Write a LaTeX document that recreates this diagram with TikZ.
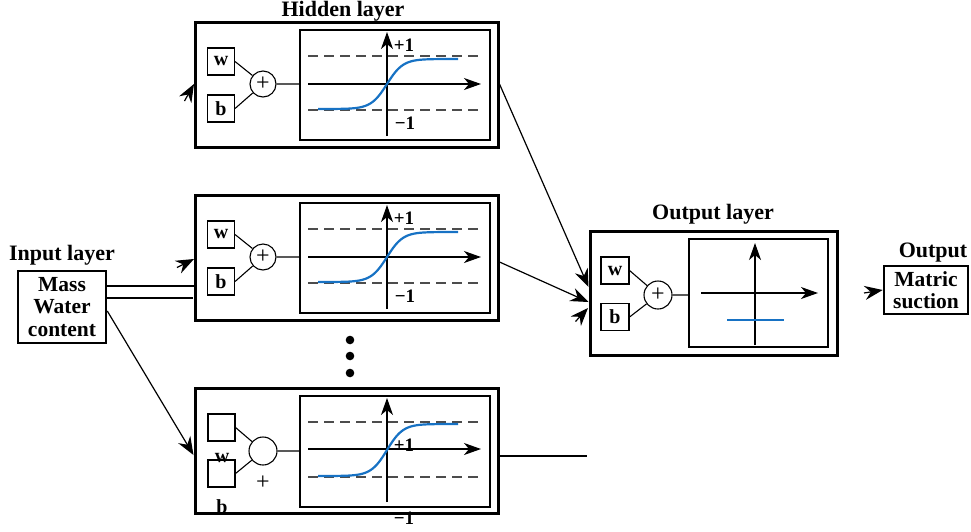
\documentclass[tikz,border=0pt]{standalone}
\usepackage{fontspec}
\setmainfont{Liberation Serif}
\usepackage{tikz}
\usetikzlibrary{arrows.meta}

\definecolor{sigblue}{RGB}{23,114,196}
\tikzset{
  outerbox/.style={draw,line width=3pt,minimum width=303pt,minimum height=125pt,inner sep=0pt},
  innerbox/.style={draw,line width=1.3pt},
  wbbox/.style={draw,line width=1.1pt,minimum width=27pt,minimum height=27pt,inner sep=0pt,font=\fontsize{20}{21}\selectfont\bfseries},
  sumnode/.style={draw,circle,line width=1.1pt,minimum size=26pt,inner sep=0pt,font=\fontsize{24}{25}\selectfont},
  lbl/.style={font=\fontsize{19}{20}\selectfont\bfseries,inner sep=0pt},
  title/.style={font=\fontsize{22}{24}\selectfont\bfseries,anchor=base,inner sep=0pt},
  iobox/.style={draw,line width=2.6pt,inner sep=0pt,align=center,font=\fontsize{21.5}{22.5}\selectfont\bfseries},
  wire/.style={line width=1.1pt},
  arr/.style={line width=1.2pt,-{Stealth[length=18pt,width=14pt,inset=6pt]}},
  axis/.style={line width=1.2pt,-{Stealth[length=17pt,width=12pt,inset=5pt]}},
  dashline/.style={line width=1.2pt,draw=black!70,dash pattern=on 10pt off 6pt},
  sigm/.style={line width=2.2pt,draw=sigblue}
}

\begin{document}
\begin{tikzpicture}[x=1pt,y=-1pt]
\useasboundingbox (0,0) rectangle (971,531);

% hidden units
\node[title] at (343,16) {Hidden layer};
\foreach \n/\yo in {1/22,2/195} {
    \node[outerbox] (hid\n) at (346.5,\yo+62.5) {};
    \draw[innerbox] (300,\yo+8) rectangle (490,\yo+118);
    \node[wbbox] (w\n) at (221,\yo+39.5) {w};
    \node[wbbox] (b\n) at (221,\yo+86.5) {b};
    \node[sumnode] (s\n) at (263,\yo+62) {+};
    \coordinate (f\n) at (300,\yo+62);
    \draw[wire] (w\n.east) -- (s\n) (b\n.east) -- (s\n) (s\n) -- (f\n);
    \draw[dashline] (308,\yo+34) -- (481,\yo+34);
    \draw[dashline] (308,\yo+88) -- (481,\yo+88);
    \draw[axis] (308,\yo+62) -- (481,\yo+62);
    \draw[axis] (387,\yo+114) -- (387,\yo+10);
    \draw[sigm] plot[domain=-69:71,samples=70,smooth] ({387+\x},{\yo+62-25*tanh(\x/16)});
    \node[lbl] at (404,\yo+23) {+1};
    \node[lbl] at (405,\yo+101) {−1};
}

% third hidden unit
\node[outerbox] (hid3) at (346.5,450.5) {};
\draw[innerbox] (300,396) rectangle (490,507);
\node[wbbox] (w3) at (221.5,427.5) {};
\node[wbbox] (b3) at (221.5,473.5) {};
\node[sumnode,minimum size=28pt] (s3) at (263,451) {};
\coordinate (f3) at (300,451);
\draw[wire] (w3.east) -- (s3) (b3.east) -- (s3) (s3) -- (f3);
\draw[dashline] (308,422) -- (481,422);
\draw[dashline] (308,477) -- (481,477);
\draw[axis] (308,449) -- (481,449);
\draw[axis] (387,502) -- (387,398);
\draw[sigm] plot[domain=-69:71,samples=70,smooth] ({387+\x},{450-26*tanh(\x/16)});
\node[lbl,font=\fontsize{20}{21}\selectfont\bfseries] at (222,458) {w};
\node[font=\fontsize{24}{25}\selectfont,inner sep=0pt] at (263,483) {+};
\node[lbl,font=\fontsize{20}{21}\selectfont\bfseries] at (222,507) {b};
\node[lbl] at (404,445) {+1};
\node[lbl] at (404,518) {−1};
\coordinate (end3) at (587,456);
\draw[wire] (hid3.east |- end3) -- (end3);

% dots
\foreach \y in {340,356,373} \fill (350,\y) circle[radius=4.3pt];

% input
\node[title] at (62,260) {Input layer};
\node[iobox,minimum width=88pt,minimum height=72pt] (inp) at (62,307) {Mass\\Water\\content};
\draw[wire] (inp.east |- 0,286) -- (hid2.west |- 0,286);
\draw[wire] (inp.east |- 0,298) -- (193,298);
\draw[arr] (inp.east |- 0,311) -- (hid3.west |- 0,455);

% loose tips
\coordinate (t1a) at (184.5,101);  \coordinate (t1b) at (194,84);
\coordinate (t2a) at (177,267.5); \coordinate (t2b) at (194,259);
\draw[arr] (t1a) -- (t1b);
\draw[arr] (t2a) -- (t2b);

% output layer
\node[title] at (713,219) {Output layer};
\node[outerbox,minimum width=247pt,minimum height=124pt] (outl) at (713.5,293) {};
\draw[innerbox] (689,239) rectangle (828,347);
\node[wbbox,minimum width=28pt] (w4) at (615,270.5) {w};
\node[wbbox,minimum width=28pt] (b4) at (615,317) {b};
\node[sumnode,minimum size=28pt] (s4) at (658,295) {+};
\coordinate (f4) at (689,295);
\draw[wire] (w4.east) -- (s4) (b4.east) -- (s4) (s4) -- (f4);
\draw[axis] (701,293) -- (818,293);
\draw[axis] (755,345) -- (755,243);
\draw[sigm] (727,320) -- (784,320);

\draw[arr] (hid1.east |- 0,84) -- (outl.west |- 0,287);
\draw[arr] (hid2.east |- 0,262) -- (outl.west |- 0,302);
\coordinate (t3a) at (575.5,321.5); \coordinate (t3b) at (588,308);
\draw[arr] (t3a) -- (t3b);

% output
\node[title] at (933,257) {Output};
\node[iobox,minimum width=84pt,minimum height=48pt] (outp) at (926,290) {Matric\\suction};
\coordinate (t4a) at (864,293);
\draw[arr] (t4a) -- (outp.west);
\end{tikzpicture}
\end{document}
